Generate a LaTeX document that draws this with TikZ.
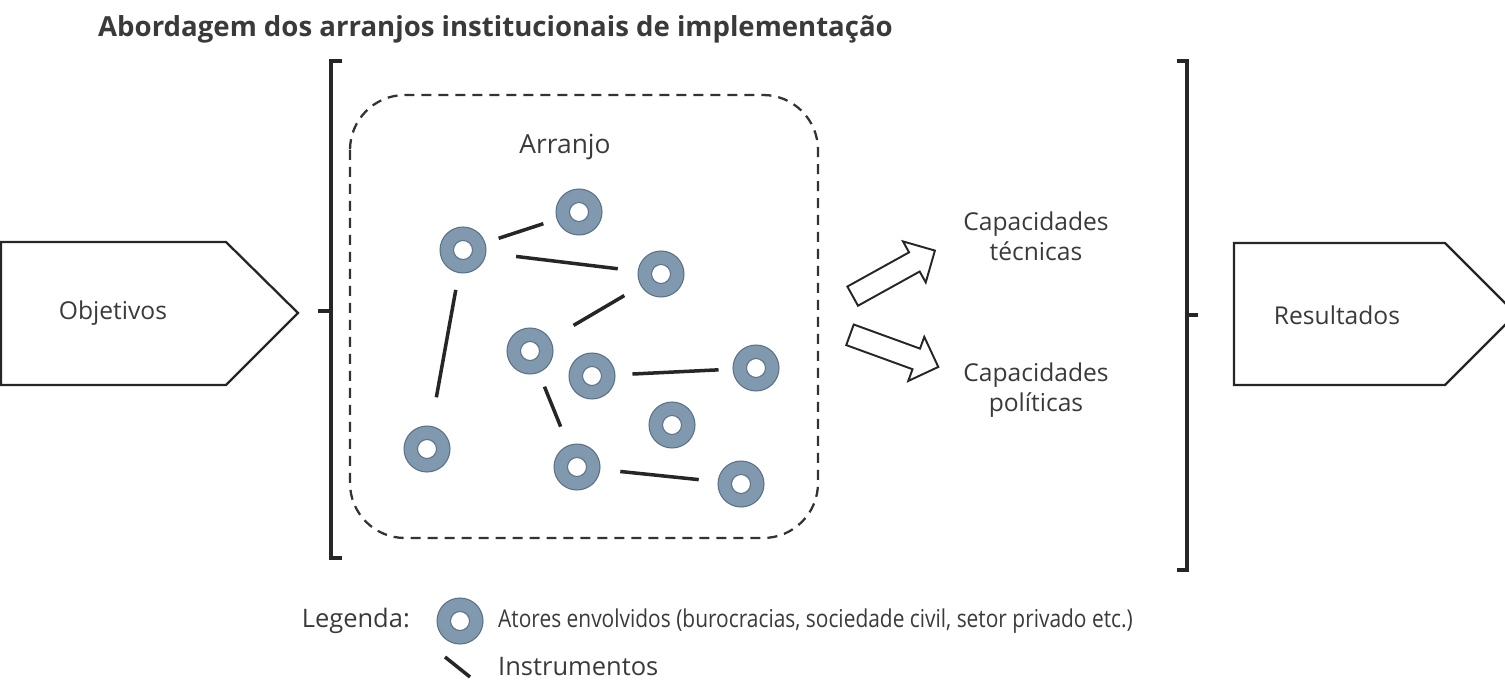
\documentclass[tikz,border=0pt]{standalone}
\usepackage{fontspec}
\setmainfont{Open Sans}
\usetikzlibrary{shapes.arrows}

\definecolor{ringfill}{HTML}{8099AE}
\definecolor{ringedge}{HTML}{5B7186}
\definecolor{txt}{HTML}{3A3A3A}

\tikzset{
  ator/.style={circle, inner sep=0pt, minimum size=0.92cm, fill=ringfill, draw=ringedge, line width=0.6pt,
    path picture={\filldraw[fill=white, draw=ringedge, line width=0.6pt] (path picture bounding box.center) circle (0.19cm);}},
  instr/.style={line width=2pt, draw=black!85},
  bracket/.style={line width=2.2pt, draw=black!85},
  bloco/.style={single arrow, draw=black!85, line width=1.1pt, fill=white, inner xsep=0pt, inner ysep=0.2cm,
    minimum height=1.88cm, single arrow head extend=0.25cm},
  rotulo/.style={text=txt, font=\fontsize{14}{17}\selectfont, align=center},
  legtxt/.style={text=txt, font=\fontsize{14.5}{17}\selectfont, anchor=west}
}

\begin{document}
\begin{tikzpicture}[x=0.02cm, y=-0.02cm]

\useasboundingbox (0,0) rectangle (1505,682);

\node[text=txt, font=\fontsize{15.7}{18}\selectfont\bfseries, anchor=base west] (titulo) at (92,37) {Abordagem dos arranjos institucionais de implementação};


\draw[line width=1.3pt, draw=black!85] (1,242) -- (226,242) -- (298,313) -- (226,385) -- (1,385) -- cycle;
\node[rotulo] (obj) at (113,313) {Objetivos};

\draw[line width=1.3pt, draw=black!85] (1234,243) -- (1445,243) -- (1516,314) -- (1445,385) -- (1234,385) -- cycle;
\node[rotulo] (res) at (1337,315) {Resultados};


\draw[bracket] (342,61) -- (331,61) -- (331,558) -- (342,558);
\draw[bracket] (318,311) -- (331,311);

\draw[bracket] (1177,61) -- (1187,61) -- (1187,570) -- (1177,570);
\draw[bracket] (1187,315) -- (1198,315);


\draw[dashed, dash pattern=on 0.2cm off 0.14cm, line width=1.3pt, draw=black!80, rounded corners=1.1cm] (350,95) rectangle (818,538);
\node[rotulo, font=\fontsize{15}{18}\selectfont] (arranjo) at (565,147) {Arranjo};


\node[ator] (a1) at (463,250) {};
\node[ator] (a2) at (579,212) {};
\node[ator] (a3) at (661,274) {};
\node[ator] (a4) at (530,351) {};
\node[ator] (a5) at (592,376) {};
\node[ator] (a6) at (756,368) {};
\node[ator] (a7) at (672,425) {};
\node[ator] (a8) at (427,449) {};
\node[ator] (a9) at (577,467) {};
\node[ator] (a10) at (741,484) {};

\draw[instr, shorten <=0.28cm, shorten >=0.28cm] (a1) -- (a2);
\draw[instr, shorten <=0.6cm, shorten >=0.4cm] (a1) -- (a3);
\draw[instr, shorten <=0.38cm, shorten >=0.54cm] (a3) -- (a4);
\draw[instr, shorten <=0.34cm, shorten >=0.58cm] (a1) -- (a8);
\draw[instr, shorten <=0.3cm, shorten >=0.4cm] (a4) -- (a9);
\draw[instr, shorten <=0.34cm, shorten >=0.28cm] (a5) -- (a6);
\draw[instr, shorten <=0.4cm, shorten >=0.38cm] (a9) -- (a10);


\node[bloco, rotate=29] (seta1) at (889,276) {};
\node[bloco, rotate=-20] (seta2) at (889,349) {};

\node[rotulo] (tecnicas) at (1036,236) {Capacidades\\técnicas};
\node[rotulo] (politicas) at (1036,390) {Capacidades\\políticas};


\node[legtxt, anchor=east] (legenda) at (416,621) {Legenda:};
\node[ator] (lator) at (460,621) {};
\node[legtxt, font=\fontsize{14}{17}\selectfont] (latores) at (492,621) {\scalebox{0.85}[1]{Atores envolvidos (burocracias, sociedade civil, setor privado etc.)}};

\coordinate (li1) at (445,657);
\coordinate (li2) at (470,677);
\draw[instr] (li1) -- (li2);
\node[legtxt] (linstr) at (492,667) {Instrumentos};

\end{tikzpicture}
\end{document}
